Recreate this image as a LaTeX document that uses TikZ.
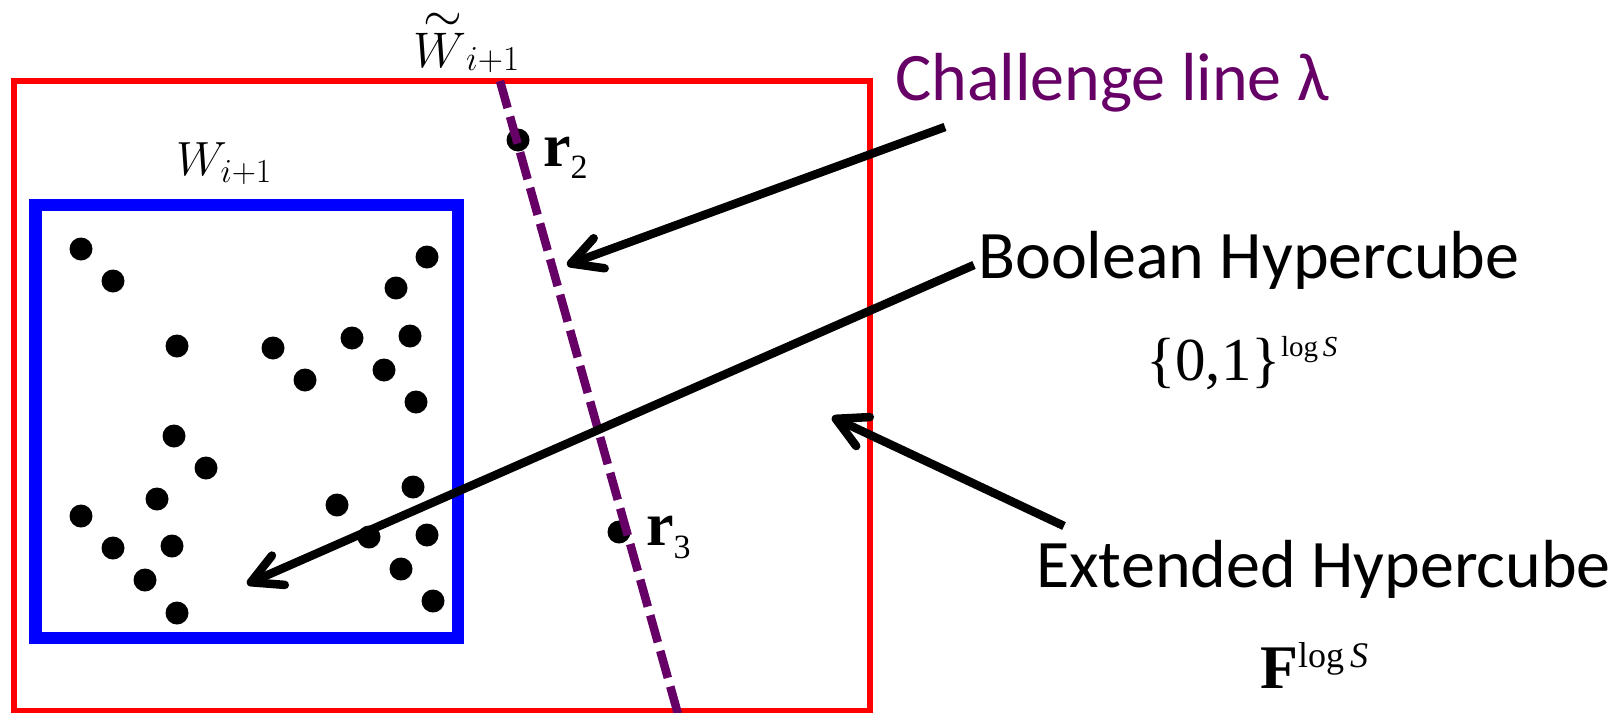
\RequirePackage{fix-cm}
\documentclass[tikz,border=0pt]{standalone}
\usepackage{fontspec}
\usetikzlibrary{arrows.meta}
\newfontfamily\carlito{Carlito}
\newfontfamily\tms{Liberation Serif}
\definecolor{chpurple}{RGB}{102,0,102}
\tikzset{
  blob/.style={circle, fill=black, inner sep=0pt, minimum size=23pt},
  redbox/.style={draw=red, line width=6pt},
  bluebox/.style={draw=blue, line width=12.5pt},
  challenge/.style={draw=chpurple, line width=8.5pt, dash pattern=on 28pt off 9pt},
  pointer/.style={draw=black, line width=8.5pt, -{Straight Barb[length=30pt,width=32pt,round]}},
  lbl/.style={inner sep=0pt, anchor=base west, font=\carlito\fontsize{68}{68}\selectfont},
  mathlbl/.style={inner sep=0pt, anchor=base west},
  serif/.style={inner sep=0pt, anchor=base west},
}
\begin{document}
\begin{tikzpicture}[x=1pt,y=-1pt]
\useasboundingbox (0,0) rectangle (1624,712);
\draw[redbox] (14,81) rectangle (870,711);
\draw[bluebox] (35.5,205) rectangle (458,638);
\foreach \x/\y [count=\i] in {81/249,113/281,177/346,273/348,305/380,352/338,410/336,384/370,416/402,427/257,396/288,174/436,206/468,157/499,81/516,113/548,172/546,145/580,177/613,337/505,413/487,369/537,427/535,401/569,433/601}
  \node[blob] (d\i) at (\x,\y) {};
\node[blob] (r2dot) at (518,140) {};
\node[blob] (r3dot) at (619,532) {};
\coordinate (lamtop) at (500,81);
\coordinate (lambot) at (678,714);
\draw[challenge] (lamtop) -- (lambot);
% labels
\node[mathlbl] (wt) at (413,63) {\fontsize{50}{50}\selectfont$\mathord{\stackrel{\textstyle\sim}{W}}_{i+1}$};
\node[mathlbl] (w) at (176,175) {\fontsize{48}{48}\selectfont$W_{i+1}$};
\node[serif] (r2) at (543,166) {{\tms\bfseries\fontsize{62}{62}\selectfont r}\raisebox{-12pt}{\tms\fontsize{34}{34}\selectfont 2}};
\node[serif] (r3) at (646,545) {{\tms\bfseries\fontsize{62}{62}\selectfont r}\raisebox{-13pt}{\tms\fontsize{34}{34}\selectfont 3}};
\node[lbl, text=chpurple] (chal) at (895,100) {Challenge line λ};
\node[lbl] (bool) at (978,278) {Boolean Hypercube};
\node[lbl] (ext) at (1036,587) {Extended Hypercube};
\node[serif] (bset) at (1146,380) {{\tms\fontsize{61}{61}\selectfont\{0,1\}}\raisebox{24pt}{\tms\fontsize{29}{29}\selectfont log\,\itshape S}};
\node[serif] (fset) at (1260,688) {{\tms\bfseries\fontsize{62}{62}\selectfont F}\raisebox{21pt}{\tms\fontsize{36}{36}\selectfont log\,\itshape S}};
% arrows
\coordinate (a1s) at (945,127);
\coordinate (a1t) at (567,265);
\coordinate (a2s) at (974,265);
\coordinate (a2t) at (247,584);
\coordinate (a3s) at (1064,526);
\coordinate (a3t) at (832,417);
\draw[pointer] (a1s) -- (a1t);
\draw[pointer] (a2s) -- (a2t);
\draw[pointer] (a3s) -- (a3t);
\end{tikzpicture}
\end{document}
